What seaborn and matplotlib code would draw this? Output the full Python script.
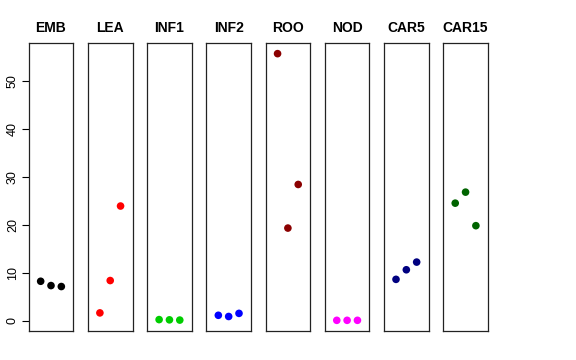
import pandas as pd
import seaborn as sns
import matplotlib.pyplot as plt

# one panel per tissue, three replicates each
tissues = ['EMB', 'LEA', 'INF1', 'INF2', 'ROO', 'NOD', 'CAR5', 'CAR15']
colors = ['black', 'red', '#00CD00', 'blue', '#8B0000', 'magenta', '#000080', '#006400']
replicate = [1, 2, 3]
values = {
    'EMB': [8.2, 7.3, 7.1],
    'LEA': [1.6, 8.35, 23.9],
    'INF1': [0.2, 0.15, 0.1],
    'INF2': [1.1, 0.85, 1.5],
    'ROO': [55.7, 19.3, 28.4],
    'NOD': [0.05, 0.05, 0.05],
    'CAR5': [8.6, 10.6, 12.2],
    'CAR15': [24.5, 26.8, 19.8],
}
yticks = [0, 10, 20, 30, 40, 50]

sns.set_style('white')
plt.rcParams['font.family'] = ['Liberation Sans', 'DejaVu Sans']
plt.rcParams['text.color'] = 'black'
plt.rcParams['ytick.color'] = 'black'
plt.rcParams['axes.labelcolor'] = 'black'

rows = []
for t in tissues:
    for r, v in zip(replicate, values[t]):
        rows.append({'tissue': t, 'rep': r, 'value': v})
df = pd.DataFrame(rows)

lo, hi = df['value'].min(), df['value'].max()
pad = (hi - lo) * 0.04
ylim = (lo - pad, hi + pad)

fig, axes = plt.subplots(1, len(tissues), figsize=(5.76, 3.6), dpi=100, sharey=True)
fig.subplots_adjust(left=0.0498, right=0.847, bottom=0.0806, top=0.8806, wspace=0.327)

for ax, t, c in zip(axes, tissues, colors):
    sns.scatterplot(data=df[df['tissue'] == t], x='rep', y='value', color=c,
                    s=30, edgecolor='none', ax=ax, legend=False)
    ax.set_xlim(-0.16, 4.16)
    ax.set_ylim(*ylim)
    ax.set_xticks([])
    ax.set_xlabel('')
    ax.set_ylabel('')
    ax.set_title(t, fontsize=10, fontweight='bold', pad=8, color='black')
    for s in ax.spines.values():
        s.set_visible(True)
        s.set_color('#222222')
        s.set_linewidth(0.9)

axes[0].set_yticks(yticks)
axes[0].tick_params(axis='y', left=True, length=5, width=0.8, labelsize=9, pad=2,
                    labelrotation=90, colors='black')
for lab in axes[0].get_yticklabels():
    lab.set_verticalalignment('center')
for ax in axes[1:]:
    ax.tick_params(axis='y', left=False, labelleft=False)

fig.savefig('out.png', dpi=100)
